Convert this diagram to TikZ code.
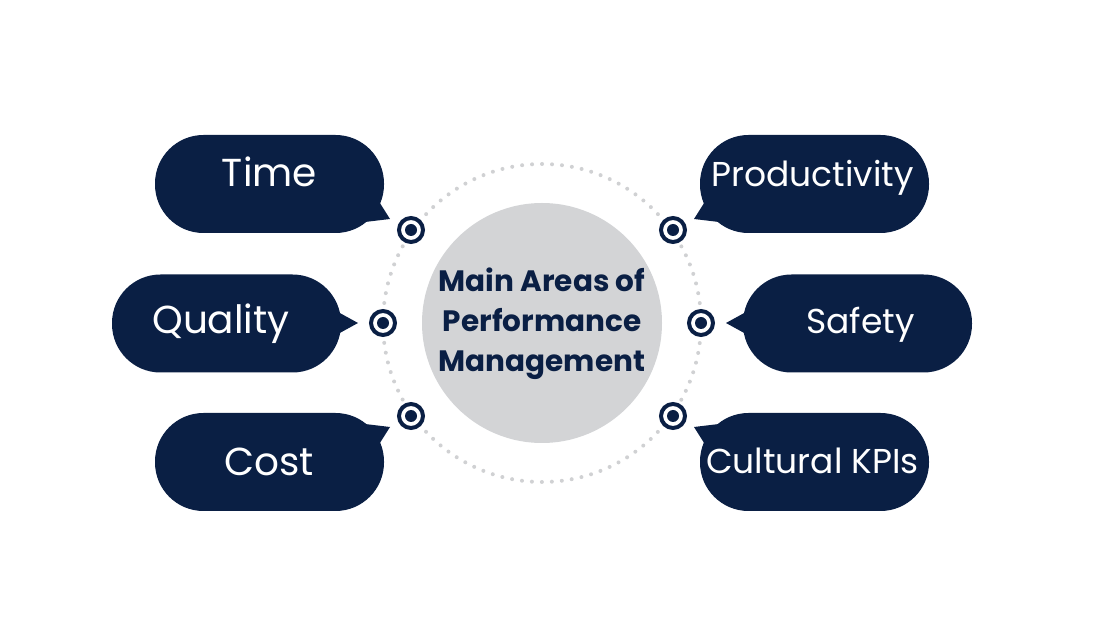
\documentclass[tikz,border=0pt]{standalone}
\usepackage{fontspec}
\setmainfont{Poppins}
\definecolor{navy}{HTML}{0A1F44}
\definecolor{hub}{HTML}{D3D4D6}
\definecolor{dots}{HTML}{D0D1D3}
\begin{document}
\begin{tikzpicture}[x=1pt,y=-1pt,
  bubble/.style={fill=navy,draw=none,rounded corners=48.5pt,minimum width=229pt,minimum height=98pt,inner sep=0pt},
  tail/.style={fill=navy,draw=none},
  label/.style={text=white,anchor=base,inner sep=0pt},
  big/.style={font=\fontsize{39}{44}\selectfont},
  small/.style={font=\fontsize{34.5}{40}\selectfont},
  target/.style={circle,draw=navy,line width=4pt,minimum size=24pt,inner sep=0pt,fill=white},
  core/.style={circle,fill=navy,minimum size=12pt,inner sep=0pt}]
\useasboundingbox (0,0) rectangle (1104,617);
% dotted ring and hub
\draw[dots,line width=4pt,line cap=round,dash pattern=on 0pt off 9.99pt] (542,323) circle[radius=159pt];
\node[circle,fill=hub,minimum size=240pt,inner sep=0pt] (hub) at (542,323) {};
\node[text=navy,font=\bfseries\fontsize{29.5}{40}\selectfont,align=center,anchor=base,inner sep=0pt] (hubtext) at (542,372)
  {Main Areas of\\Performance\\Management};
% left bubbles
\node[bubble] (time) at (269.5,184) {};
\fill[tail] (378,200) -- (390,219) -- (365,222) -- cycle;
\node[label,big] (timet) at (269.5,187) {Time};
\node[bubble] (quality) at (226.5,323.5) {};
\fill[tail] (338,312) -- (358,323) -- (338,334) -- cycle;
\node[label,big] (qualityt) at (221,334) {Quality};
\node[bubble] (cost) at (269.5,462) {};
\fill[tail] (378,446) -- (390,427) -- (365,424) -- cycle;
\node[label,big] (costt) at (269,476) {Cost};
% right bubbles
\node[bubble] (prod) at (814.5,184) {};
\fill[tail] (706,200) -- (694,219) -- (719,222) -- cycle;
\node[label,small] (prodt) at (812.5,187) {Productivity};
\node[bubble] (safety) at (857.5,323.5) {};
\fill[tail] (746,312) -- (726,323) -- (746,334) -- cycle;
\node[label,small] (safetyt) at (860.5,334) {Safety};
\node[bubble] (cult) at (814.5,462) {};
\fill[tail] (706,446) -- (694,427) -- (719,424) -- cycle;
\node[label,small] (cultt) at (812.5,474) {Cultural KPIs};
% targets
\foreach \n/\x/\y in {t1/411/230,t2/383/323,t3/411/416,t4/673/230,t5/701/323,t6/673/416}{
  \node[target] (\n) at (\x,\y) {};
  \node[core] (\n c) at (\x,\y) {};
}
\end{tikzpicture}
\end{document}
